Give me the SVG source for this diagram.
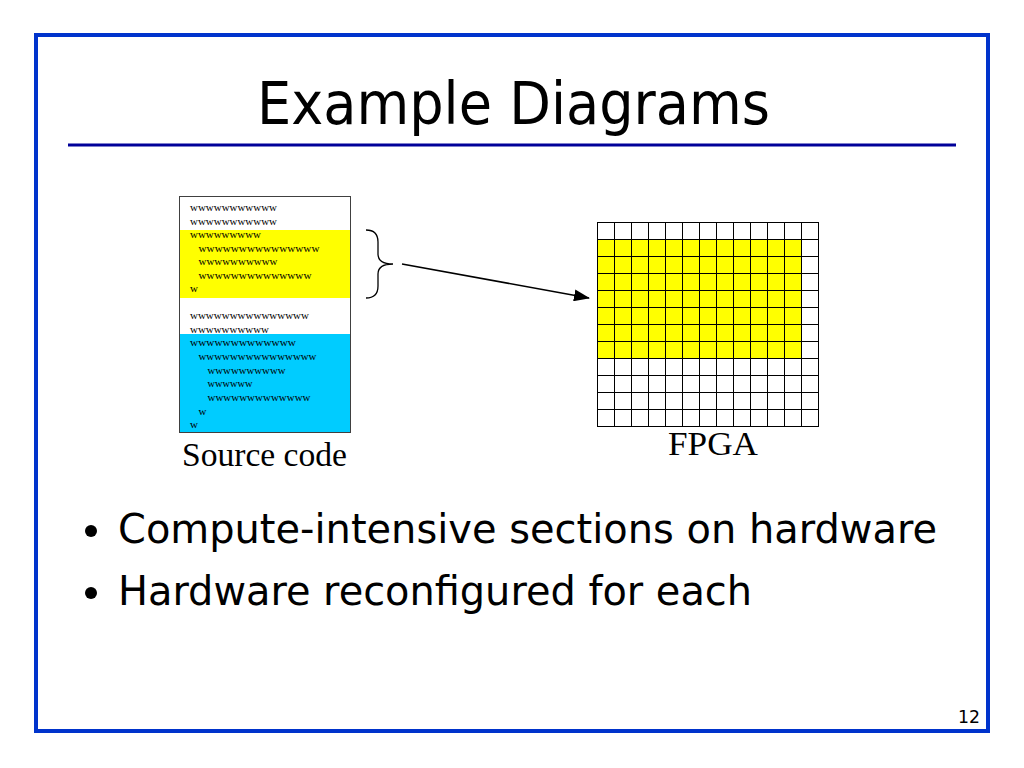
<svg xmlns="http://www.w3.org/2000/svg" width="1024" height="768" viewBox="0 0 1024 768">
<style>
.code{font-family:"Liberation Serif","Times New Roman",serif;font-size:11px;fill:#000}
.lbl{font-family:"Liberation Serif","Times New Roman",serif;font-size:33px;fill:#000}
.sans{font-family:"DejaVu Sans",Tahoma,Verdana,sans-serif;fill:#000}
.grid{stroke:#000;stroke-width:1;fill:none}
</style>
<defs>
<marker id="ah" markerWidth="16" markerHeight="12" refX="15" refY="6" orient="auto" markerUnits="userSpaceOnUse">
<path d="M0,0 L16,6 L0,12 Z" fill="#000"/>
</marker>
</defs>
<rect x="0" y="0" width="1024" height="768" fill="#fff"/>
<rect x="36" y="35" width="952" height="696" fill="none" stroke="#0033cc" stroke-width="4"/>
<line x1="68" y1="145" x2="956" y2="145" stroke="#000099" stroke-width="3"/>
<text class="sans" x="257" y="124" font-size="59" textLength="513" lengthAdjust="spacingAndGlyphs">Example Diagrams</text>

<g id="source-code">
<rect x="179.5" y="196.5" width="171" height="236" fill="#fff" stroke="#404040" stroke-width="1"/>
<rect x="180" y="230" width="170" height="68" fill="#ffff00"/>
<rect x="180" y="334" width="170" height="98" fill="#00ccff"/>
<rect x="179.5" y="196.5" width="171" height="236" fill="none" stroke="#404040" stroke-width="1"/>
<text class="code" x="190" y="211" textLength="87" lengthAdjust="spacingAndGlyphs">wwwwwwwwwww</text>
<text class="code" x="190" y="224.5" textLength="87" lengthAdjust="spacingAndGlyphs">wwwwwwwwwww</text>
<text class="code" x="190" y="238" textLength="71" lengthAdjust="spacingAndGlyphs">wwwwwwwww</text>
<text class="code" x="198.5" y="252" textLength="121" lengthAdjust="spacingAndGlyphs">wwwwwwwwwwwwwww</text>
<text class="code" x="198.5" y="265" textLength="79" lengthAdjust="spacingAndGlyphs">wwwwwwwwww</text>
<text class="code" x="198.5" y="279" textLength="113" lengthAdjust="spacingAndGlyphs">wwwwwwwwwwwwww</text>
<text class="code" x="190" y="292">w</text>
<text class="code" x="190" y="319" textLength="119" lengthAdjust="spacingAndGlyphs">wwwwwwwwwwwwwww</text>
<text class="code" x="190" y="333" textLength="79" lengthAdjust="spacingAndGlyphs">wwwwwwwwww</text>
<text class="code" x="190" y="346" textLength="106" lengthAdjust="spacingAndGlyphs">wwwwwwwwwwwww</text>
<text class="code" x="198.5" y="360" textLength="118" lengthAdjust="spacingAndGlyphs">wwwwwwwwwwwwwww</text>
<text class="code" x="207.5" y="373.5" textLength="78" lengthAdjust="spacingAndGlyphs">wwwwwwwwww</text>
<text class="code" x="207.5" y="387" textLength="45" lengthAdjust="spacingAndGlyphs">wwwwww</text>
<text class="code" x="207.5" y="401" textLength="103" lengthAdjust="spacingAndGlyphs">wwwwwwwwwwwww</text>
<text class="code" x="198.5" y="415">w</text>
<text class="code" x="190" y="428">w</text>
<text class="lbl" x="182" y="466" textLength="165" lengthAdjust="spacingAndGlyphs">Source code</text>
</g>

<g id="brace">
<path d="M366,230 Q378,230 378,242 L378,254 Q378,264 393,264 Q378,264 378,274 L378,286 Q378,298 366,298" fill="none" stroke="#000" stroke-width="1.3"/>
</g>

<g id="connectors">
<line x1="402" y1="264" x2="589" y2="298" stroke="#000" stroke-width="1.5" marker-end="url(#ah)"/>
</g>

<g id="fpga">
<rect x="597" y="222" width="221" height="204" fill="#fff"/>
<rect x="597" y="239" width="204" height="119" fill="#ffff00"/>
<path class="grid" d="M597.5,222 V426 M614.5,222 V426 M631.5,222 V426 M648.5,222 V426 M665.5,222 V426 M682.5,222 V426 M699.5,222 V426 M716.5,222 V426 M733.5,222 V426 M750.5,222 V426 M767.5,222 V426 M784.5,222 V426 M801.5,222 V426 M818.5,222 V426
M597,222.5 H819 M597,239.5 H819 M597,256.5 H819 M597,273.5 H819 M597,290.5 H819 M597,307.5 H819 M597,324.5 H819 M597,341.5 H819 M597,358.5 H819 M597,375.5 H819 M597,392.5 H819 M597,409.5 H819 M597,426.5 H819"/>
<text class="lbl" x="668" y="455" textLength="90" lengthAdjust="spacingAndGlyphs">FPGA</text>
</g>

<circle cx="91" cy="531" r="6" fill="#000"/>
<text class="sans" x="118" y="543" font-size="41" textLength="819" lengthAdjust="spacingAndGlyphs">Compute-intensive sections on hardware</text>
<circle cx="91" cy="593" r="6" fill="#000"/>
<text class="sans" x="118" y="605" font-size="41" textLength="634" lengthAdjust="spacingAndGlyphs">Hardware reconfigured for each</text>
<text class="sans" x="958" y="723" font-size="17" textLength="22" lengthAdjust="spacingAndGlyphs">12</text>
</svg>
